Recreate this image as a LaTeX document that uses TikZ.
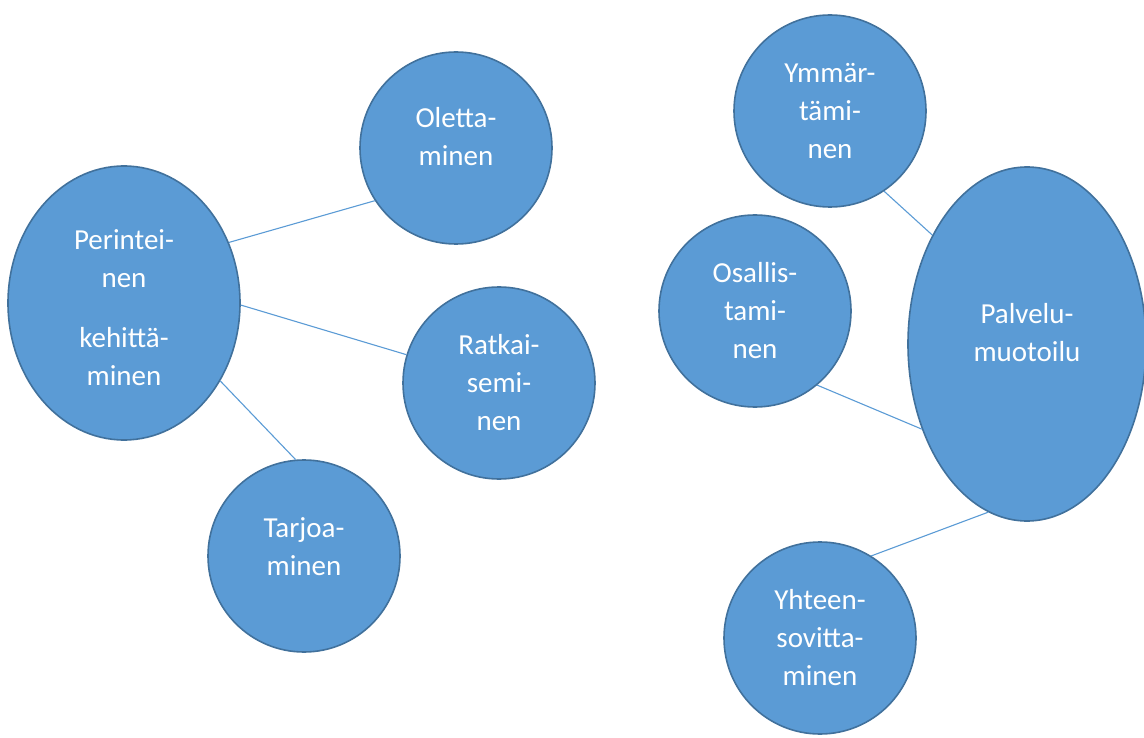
\documentclass[tikz,border=0pt]{standalone}
\usepackage{fontspec}
\setmainfont{Carlito}
\usetikzlibrary{shapes.geometric}
\definecolor{fillblue}{HTML}{5B9BD5}
\definecolor{rimblue}{HTML}{41719C}
\begin{document}
\begin{tikzpicture}[x=1pt,y=-1pt,
  shapebase/.style={fill=fillblue,draw=rimblue,line width=1.6pt,inner sep=0pt,
    text=white,font=\fontsize{29}{38}\selectfont,align=center},
  bubble/.style={shapebase,circle,minimum size=192pt},
  oval/.style={shapebase,ellipse},
  txt/.style={text=white,font=\fontsize{29}{38}\selectfont,align=center,inner sep=0pt},
  link/.style={draw=fillblue,line width=1.1pt}]
\useasboundingbox (0,0) rectangle (1144,738);

% left group
\node[oval,minimum width=232pt,minimum height=274pt,
  label={[txt,yshift=-5pt]center:{Perintei-\\nen\\[22pt]kehittä-\\minen}}] (per) at (124,303) {};
\node[bubble,label={[txt,yshift=11pt]center:{Oletta-\\minen}}] (ole) at (456,148) {};
\node[bubble] (rat) at (499,383) {Ratkai-\\semi-\\nen};
\node[bubble,label={[txt,yshift=9pt]center:{Tarjoa-\\minen}}] (tar) at (304,556) {};

% right group
\node[bubble] (ymm) at (830,111) {Ymmär-\\tämi-\\nen};
\node[bubble] (osa) at (755,311) {Osallis-\\tami-\\nen};
\node[oval,minimum width=238pt,minimum height=354pt,
  label={[txt,yshift=11pt]center:{Palvelu-\\muotoilu}}] (pal) at (1027,344) {};
\node[bubble] (yht) at (820,638) {Yhteen-\\sovitta-\\minen};

% connectors
\draw[link] (per.30) -- (ole.213);
\draw[link] (per.-1) -- (rat.163);
\draw[link] (per.-39) -- (tar.95);
\draw[link] (ymm.-56) -- (pal.131);
\draw[link] (osa.-50) -- (pal.219);
\draw[link] (pal.257) -- (yht.58);
\end{tikzpicture}
\end{document}
